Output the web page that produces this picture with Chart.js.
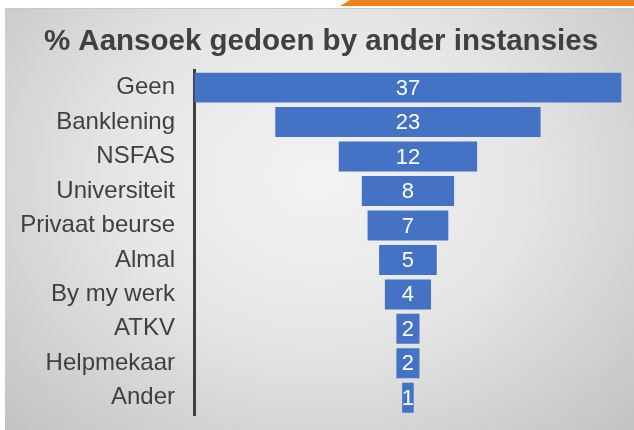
<!DOCTYPE html>
<html lang="af">
<head>
  <meta charset="UTF-8">
  <title>% Aansoek gedoen by ander instansies</title>
  <script src="https://cdn.jsdelivr.net/npm/chart.js"></script>
  <style>
    body { margin: 0; background: #ffffff; }
    .slide { position: relative; width: 634px; height: 430px; overflow: hidden; background: #ffffff; }
    .streep { position: absolute; left: 340px; top: 0; width: 294px; height: 6px; background: #f0821e;
              clip-path: polygon(10px 0, 100% 0, 100% 100%, 0 100%); }
    .paneel { position: absolute; left: 5px; top: 8px; width: 629px; height: 422px;
              border-top: 1px solid #c8c8c8;
              background: radial-gradient(ellipse at 50% 40%, #f3f3f3 0%, #e6e6e6 45%, #c2c2c2 100%); }
    canvas { position: absolute; left: 0; top: 0; }
  </style>
</head>
<body>
  <div class="slide">
    <div class="streep"></div>
    <div class="paneel"></div>
    <canvas id="tregter" width="634" height="430"></canvas>
  </div>

<script>
  // data
  var instansies = ['Geen', 'Banklening', 'NSFAS', 'Universiteit', 'Privaat beurse', 'Almal', 'By my werk', 'ATKV', 'Helpmekaar', 'Ander'];
  var persentasie = [37, 23, 12, 8, 7, 5, 4, 2, 2, 1];

  var lettertipe = "'Liberation Sans', Arial, sans-serif";

  // tregter: elke staaf gesentreer om 0
  var balke = persentasie.map(function (v) { return [-v / 2, v / 2]; });

  // skryf die getal in die middel van elke staaf
  var getalEtikette = {
    id: 'getalEtikette',
    afterDatasetsDraw: function (chart) {
      var ctx = chart.ctx;
      var meta = chart.getDatasetMeta(0);
      ctx.save();
      ctx.fillStyle = '#ffffff';
      ctx.font = '22px ' + lettertipe;
      ctx.textAlign = 'center';
      ctx.textBaseline = 'middle';
      meta.data.forEach(function (bar, i) {
        var c = bar.getCenterPoint();
        ctx.fillText(persentasie[i], c.x, c.y + 1);
      });
      ctx.restore();
    }
  };

  var ctx = document.getElementById('tregter').getContext('2d');

  new Chart(ctx, {
    type: 'bar',
    data: {
      labels: instansies,
      datasets: [{
        label: '%',
        data: balke,
        backgroundColor: '#4472c4',
        borderWidth: 0,
        categoryPercentage: 1,
        barPercentage: 0.87
      }]
    },
    options: {
      indexAxis: 'y',
      responsive: false,
      animation: false,
      layout: { padding: { left: 8, right: 0, top: 0, bottom: 15 } },
      scales: {
        x: {
          display: false,
          min: -18.55,
          max: 19.6
        },
        y: {
          grid: { display: false },
          border: { display: true, color: '#404040', width: 3 },
          ticks: {
            color: '#404040',
            padding: 11,
            font: { family: lettertipe, size: 24 }
          },
          afterFit: function (scale) {
            scale.width = 186;
            scale.paddingTop = 0;
            scale.paddingBottom = 0;
          }
        }
      },
      plugins: {
        legend: { display: false },
        tooltip: { enabled: false },
        title: {
          display: true,
          text: '% Aansoek gedoen by ander instansies',
          color: '#404040',
          font: { family: lettertipe, size: 29.5, weight: 'bold' },
          padding: { top: 24, bottom: 11 }
        }
      }
    },
    plugins: [getalEtikette]
  });
</script>
</body>
</html>
